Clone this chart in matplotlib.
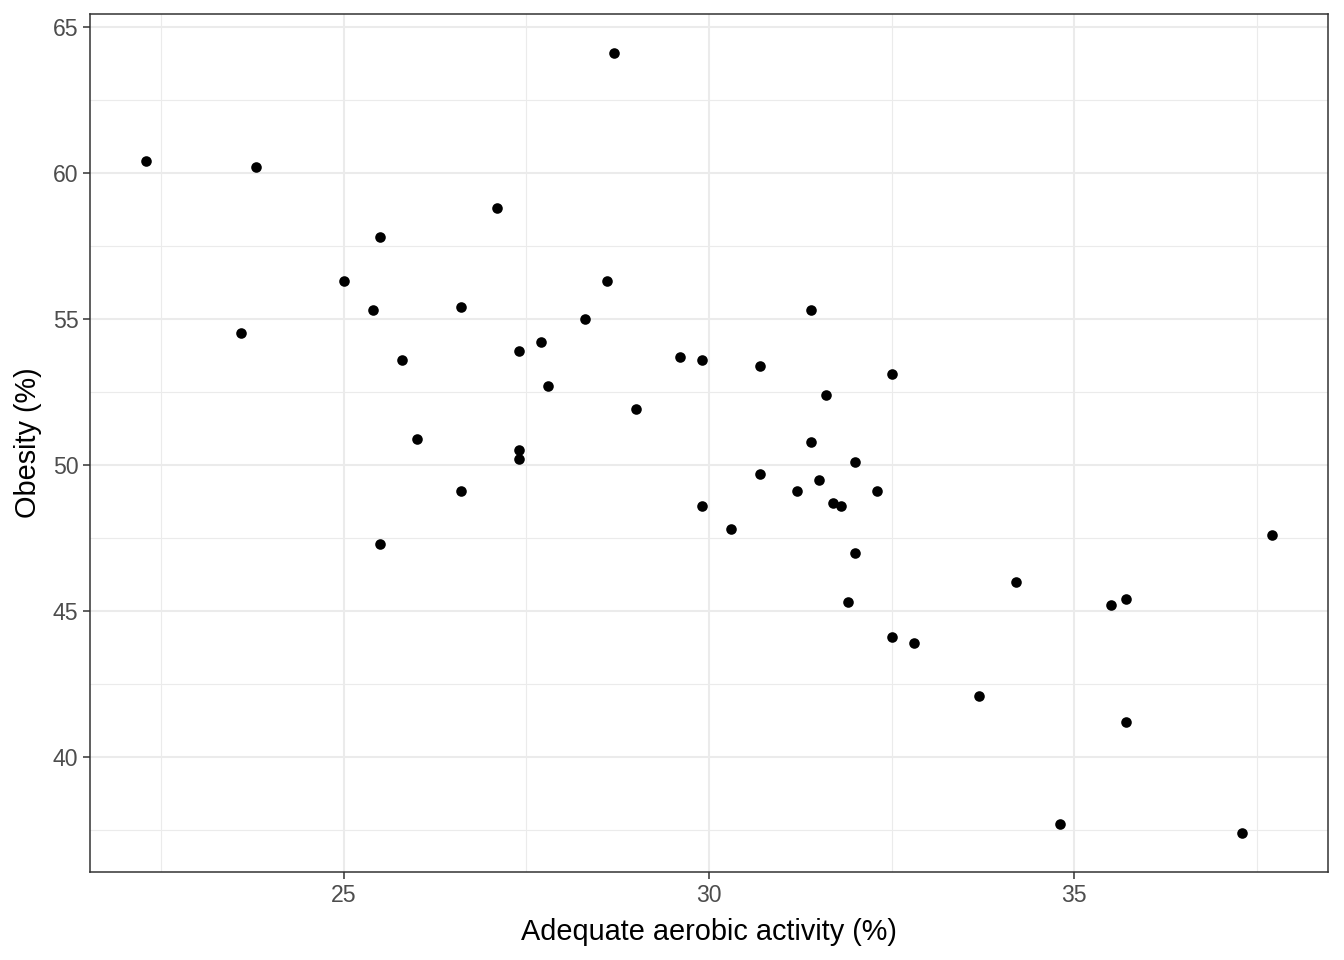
import matplotlib.pyplot as plt
import numpy as np

aerobic = [22.3, 23.8, 23.6, 25.0, 25.5, 25.4, 25.8, 26.0, 25.5, 26.6,
           26.6, 27.1, 27.4, 27.4, 27.4, 27.7, 27.8, 28.3, 28.6, 28.7,
           29.0, 29.6, 29.9, 29.9, 30.3, 30.7, 30.7, 31.2, 31.4, 31.4,
           31.5, 31.6, 31.7, 31.8, 32.0, 32.0, 31.9, 32.3, 32.5, 32.5,
           32.8, 33.7, 34.2, 34.8, 35.5, 35.7, 35.7, 37.3, 37.7]
obesity = [60.4, 60.2, 54.5, 56.3, 57.8, 55.3, 53.6, 50.9, 47.3, 55.4,
           49.1, 58.8, 53.9, 50.5, 50.2, 54.2, 52.7, 55.0, 56.3, 64.1,
           51.9, 53.7, 53.6, 48.6, 47.8, 53.4, 49.7, 49.1, 55.3, 50.8,
           49.5, 52.4, 48.7, 48.6, 50.1, 47.0, 45.3, 49.1, 53.1, 44.1,
           43.9, 42.1, 46.0, 37.7, 45.2, 45.4, 41.2, 37.4, 47.6]

x_ticks = [25, 30, 35]
y_ticks = [40, 45, 50, 55, 60, 65]

plt.rcParams['font.family'] = ['Liberation Sans', 'DejaVu Sans']

fig = plt.figure(figsize=(13.44, 9.6), dpi=100)
ax = fig.add_axes([90 / 1344, 1 - 872 / 960, (1328 - 90) / 1344, (872 - 14) / 960])

ax.scatter(aerobic, obesity, s=58, color='black', zorder=3, linewidths=0)

# limites avec 5% d'expansion comme ggplot
xr = max(aerobic) - min(aerobic)
yr = max(obesity) - min(obesity)
ax.set_xlim(min(aerobic) - 0.05 * xr, max(aerobic) + 0.05 * xr)
ax.set_ylim(min(obesity) - 0.05 * yr, max(obesity) + 0.05 * yr)

ax.set_xticks(x_ticks)
ax.set_yticks(y_ticks)
ax.set_xticks(np.arange(22.5, 40, 5), minor=True)
ax.set_yticks(np.arange(37.5, 65, 5), minor=True)
ax.grid(True, which='major', color='#EBEBEB', linewidth=1.5, zorder=0)
ax.grid(True, which='minor', color='#EBEBEB', linewidth=0.8, zorder=0)
ax.set_axisbelow(True)

ax.tick_params(which='major', length=5.3, width=1.1, color='#333333',
               labelsize=16.6, labelcolor='#4D4D4D', pad=3)
ax.tick_params(which='minor', length=0)
for s in ax.spines.values():
    s.set_color('#333333')
    s.set_linewidth(1.1)

ax.set_xlabel('Adequate aerobic activity (%)', fontsize=20.8, color='black', labelpad=8)
ax.set_ylabel('Obesity (%)', fontsize=20.8, color='black', labelpad=8)

fig.savefig('out.png', dpi=100, facecolor='white')
